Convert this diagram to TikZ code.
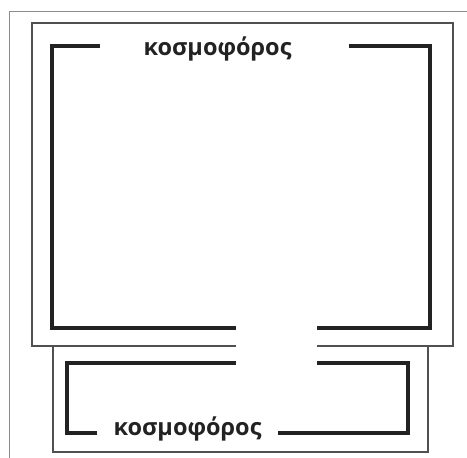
\documentclass[tikz,border=0pt]{standalone}
\usepackage{fontspec}
\setmainfont{Open Sans}
\usepackage{tikz}
\usetikzlibrary{positioning}
\definecolor{wall}{RGB}{34,34,34}
\definecolor{edge}{RGB}{80,80,80}
\definecolor{scan}{RGB}{140,140,140}
\tikzset{
  label/.style={inner sep=0pt, anchor=base, font=\fontsize{23.5}{26}\selectfont\bfseries, text=wall},
  thickwall/.style={draw=wall, line width=3.4pt},
  thinwall/.style={draw=edge, line width=1.3pt},
  scanline/.style={draw=scan, line width=0.9pt},
}

\begin{document}
\begin{tikzpicture}[x=1pt, y=-1pt]
  \useasboundingbox (0,0) rectangle (467,458);
  % Scan border
  \draw[scanline] (9.5,458) -- (9.5,11) -- (467,11);
  % Upper outer frame
  \coordinate (ua) at (32,23);
  \coordinate (ub) at (453,346);
  \coordinate (gapl) at (236,346);
  \coordinate (gapr) at (317,346);
  \draw[thinwall] (gapl) -| (ua) -| (ub) -- (gapr);
  % Lower outer frame
  \draw[thinwall] (53,346) |- (428,452) -- (428,346);
  % Labels
  \node[label] (top) at (217.5,55) {κοσμοφόρος};
  \node[label] (bottom) at (187.5,435) {κοσμοφόρος};
  % Upper room
  \draw[thickwall] (100,46) -| (52,328) -- (236,328);
  \draw[thickwall] (349,46) -| (430,328) -- (317,328);
  % Lower room
  \draw[thickwall] (236,363) -| (67,433) -- (97,433);
  \draw[thickwall] (317,363) -| (408,433) -- (278,433);
\end{tikzpicture}
\end{document}
